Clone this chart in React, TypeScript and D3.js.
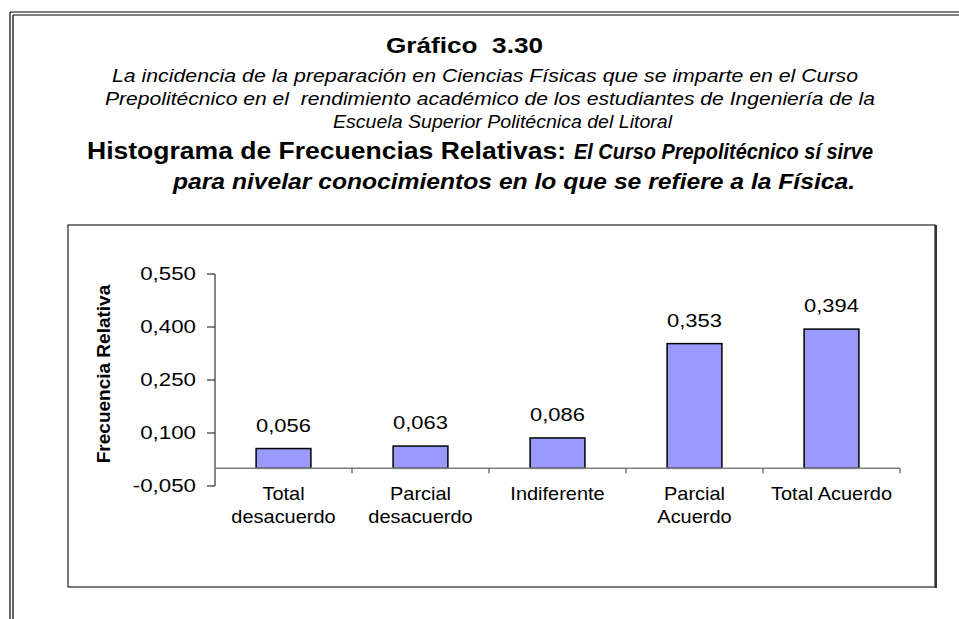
import React from "react";
import * as d3 from "d3";

// chart data
const categories = ["Total desacuerdo", "Parcial desacuerdo", "Indiferente", "Parcial Acuerdo", "Total Acuerdo"];
const categoryLines = [["Total", "desacuerdo"], ["Parcial", "desacuerdo"], ["Indiferente"], ["Parcial", "Acuerdo"], ["Total Acuerdo"]];
const values = [0.056, 0.063, 0.086, 0.353, 0.394];
const yTicks = [-0.05, 0.1, 0.25, 0.4, 0.55];

const FONT = "'Liberation Sans', Arial, Helvetica, sans-serif";

const esFormat = d3.formatLocale({
  decimal: ",",
  thousands: ".",
  grouping: [3],
  currency: ["$", ""],
  minus: "-",
}).format(".3f");

// text that is stretched horizontally like the original scan
const T = ({ x, y, sx = 1, anchor = "middle", size = 18, weight = "normal", style = "normal", children }) => (
  <text
    transform={`translate(${x},${y}) scale(${sx},1)`}
    textAnchor={anchor}
    fontSize={size}
    fontWeight={weight}
    fontStyle={style}
    fontFamily={FONT}
    fill="#000"
  >
    {children}
  </text>
);

// long title lines are fitted to their measured width
const Line = ({ x, y, len, size, weight = "normal", style = "normal", children }) => (
  <text
    x={x}
    y={y}
    textLength={len}
    lengthAdjust="spacingAndGlyphs"
    fontSize={size}
    fontWeight={weight}
    fontStyle={style}
    fontFamily={FONT}
    fill="#000"
    style={{ whiteSpace: "pre" }}
  >
    {children}
  </text>
);

const App = () => {
  const width = 959;
  const height = 619;
  const plot = { left: 215, right: 900, top: 274, bottom: 486 };

  const x = d3
    .scaleBand()
    .domain(categories)
    .range([plot.left, plot.right])
    .paddingInner(0.6)
    .paddingOuter(0.3);

  const y = d3
    .scaleLinear()
    .domain([-0.05, 0.55])
    .range([plot.bottom, plot.top]);

  const y0 = y(0);
  const step = x.step();
  const boundaries = d3.range(categories.length + 1).map((i) => plot.left + i * step);

  return (
    <svg width={width} height={height} style={{ position: "absolute", left: 0, top: 0, background: "#fff" }}>
      {/* outer double frame */}
      <g stroke="#000" strokeWidth={1.2} fill="none">
        <line x1={10} y1={12} x2={width} y2={12} />
        <line x1={13} y1={15} x2={width} y2={15} />
        <line x1={10} y1={12} x2={10} y2={height} />
        <line x1={13} y1={15} x2={13} y2={height} />
      </g>

      {/* titles */}
      <Line x={386} y={53} len={157} size={22} weight="bold">{"Gráfico  3.30"}</Line>
      <Line x={112} y={82} len={746} size={18} style="italic">
        {"La incidencia de la preparación en Ciencias Físicas que se imparte en el Curso"}
      </Line>
      <Line x={105} y={105} len={770} size={18} style="italic">
        {"Prepolitécnico en el  rendimiento académico de los estudiantes de Ingeniería de la"}
      </Line>
      <Line x={333} y={128} len={339} size={18} style="italic">
        {"Escuela Superior Politécnica del Litoral"}
      </Line>
      <Line x={87} y={159} len={479} size={23} weight="bold">
        {"Histograma de Frecuencias Relativas:"}
      </Line>
      <Line x={574} y={159} len={299} size={22} weight="bold" style="italic">
        {"El Curso Prepolitécnico sí sirve"}
      </Line>
      <Line x={173} y={189} len={682} size={22} weight="bold" style="italic">
        {"para nivelar conocimientos en lo que se refiere a la Física."}
      </Line>

      {/* chart area frame */}
      <rect x={68} y={225} width={867} height={362} fill="#fff" stroke="#222" strokeWidth={1.2} />
      <line x1={936} y1={225} x2={936} y2={588} stroke="#333" strokeWidth={2} />

      {/* y axis */}
      <line x1={plot.left} y1={plot.top} x2={plot.left} y2={plot.bottom} stroke="#333" strokeWidth={1.2} />
      {yTicks.map((t) => (
        <g key={t}>
          <line x1={plot.left - 8} y1={y(t)} x2={plot.left} y2={y(t)} stroke="#333" strokeWidth={1.2} />
          <T x={196} y={y(t) + 6} sx={1.24} anchor="end">{esFormat(t)}</T>
        </g>
      ))}
      <text
        transform="translate(110,374) rotate(-90)"
        textAnchor="middle"
        fontSize={19}
        fontWeight="bold"
        fontFamily={FONT}
      >
        Frecuencia Relativa
      </text>

      {/* bars */}
      {values.map((v, i) => (
        <rect
          key={categories[i]}
          x={x(categories[i])}
          y={y(v)}
          width={x.bandwidth()}
          height={y0 - y(v)}
          fill="#9999FF"
          stroke="#000"
          strokeWidth={1.5}
        />
      ))}

      {/* x axis at zero */}
      <line x1={plot.left} y1={y0} x2={plot.right} y2={y0} stroke="#808080" strokeWidth={1.5} />
      {boundaries.slice(1).map((b) => (
        <line key={b} x1={b} y1={y0} x2={b} y2={y0 + 5} stroke="#333" strokeWidth={1} />
      ))}

      {/* value labels */}
      {values.map((v, i) => (
        <T key={categories[i]} x={x(categories[i]) + x.bandwidth() / 2} y={y(v) - 17} sx={1.22}>
          {esFormat(v)}
        </T>
      ))}

      {/* category labels */}
      {categoryLines.map((lines, i) => (
        <g key={categories[i]}>
          {lines.map((l) => (
            <T key={l} x={x(categories[i]) + x.bandwidth() / 2} y={y0 + 32 + lines.indexOf(l) * 23} sx={1.11}>
              {l}
            </T>
          ))}
        </g>
      ))}
    </svg>
  );
};

export default App;
